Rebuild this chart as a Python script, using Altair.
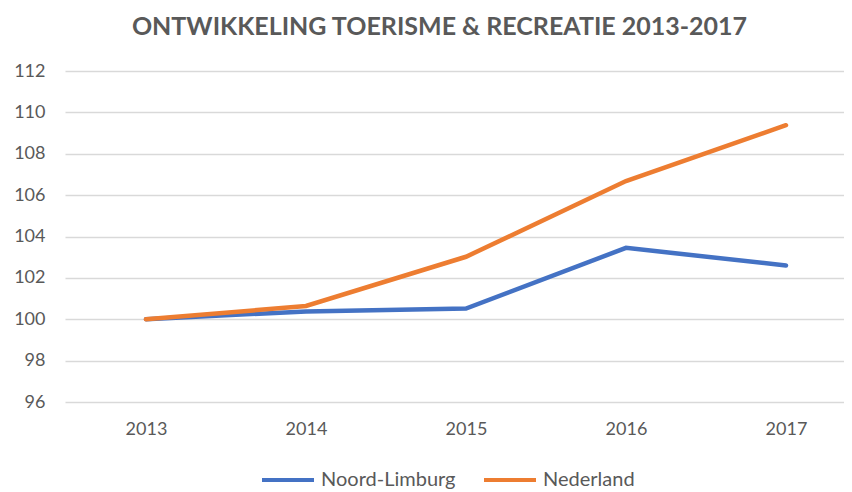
import altair as alt
import pandas as pd

years = [2013, 2014, 2015, 2016, 2017]
noord_limburg = [100.0, 100.38, 100.52, 103.45, 102.6]
nederland = [100.0, 100.64, 103.02, 106.68, 109.38]
series_names = ["Noord-Limburg", "Nederland"]
series_colors = ["#4472C4", "#ED7D31"]
y_ticks = [96, 98, 100, 102, 104, 106, 108, 110, 112]

rows = []
for name, vals in zip(series_names, [noord_limburg, nederland]):
    for yr, v in zip(years, vals):
        rows.append({"jaar": yr, "index": v, "reeks": name})
df = pd.DataFrame(rows)

FONT = "Lato"
GREY = "#595959"

chart = alt.Chart(df).mark_line(strokeWidth=4.5, strokeCap="round", strokeJoin="miter").encode(
    x=alt.X("jaar:Q",
            scale=alt.Scale(domain=[2012.494, 2017.3625], nice=False, zero=False),
            axis=alt.Axis(values=years, format="d", title=None, grid=False, domain=False,
                          ticks=False, labelPadding=18, labelFontSize=18, labelColor=GREY,
                          labelFont=FONT)),
    y=alt.Y("index:Q",
            scale=alt.Scale(domain=[96, 112], nice=False, zero=False),
            axis=alt.Axis(values=y_ticks, title=None, grid=True, gridColor="#d9d9d9",
                          gridWidth=1.3, domain=False, ticks=False, labelPadding=20,
                          labelFontSize=18, labelColor=GREY, labelFont=FONT)),
    color=alt.Color("reeks:N",
                    scale=alt.Scale(domain=series_names, range=series_colors),
                    legend=alt.Legend(title=None, orient="none", legendX=195, legendY=381,
                                      direction="horizontal",
                                      symbolType="stroke", symbolSize=2704,
                                      symbolStrokeWidth=4, labelFontSize=20,
                                      labelColor=GREY, labelFont=FONT, columnPadding=20,
                                      labelOffset=5)),
    order="jaar:Q",
).properties(
    width=779,
    height=331,
    title=alt.TitleParams("ONTWIKKELING TOERISME & RECREATIE 2013-2017", fontSize=25,
                          font=FONT, fontWeight="bold", color=GREY, anchor="middle",
                          baseline="alphabetic", offset=2, dx=-15),
    autosize=alt.AutoSizeParams(type="none"),
    padding={"left": 57, "top": 63, "right": 0, "bottom": 90},
).configure_view(stroke=None)

chart.save("out.html", embed_options={"renderer": "svg", "actions": False})
